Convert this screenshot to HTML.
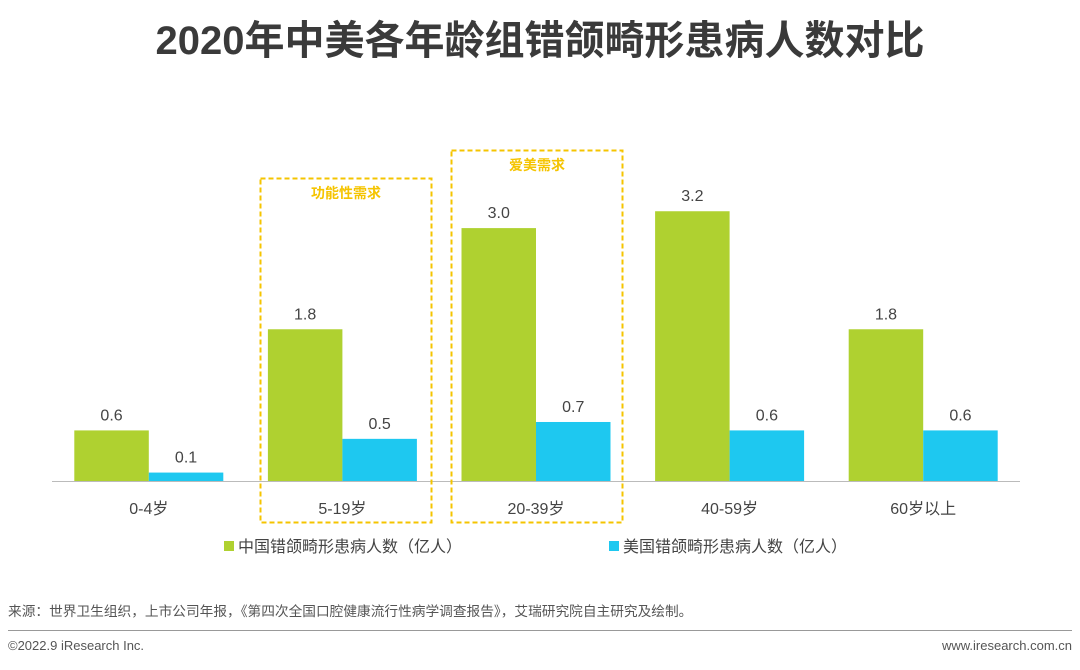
<!DOCTYPE html>
<html><head><meta charset="utf-8">
<style>
body{margin:0;width:1080px;height:665px;background:#fff;overflow:hidden;font-family:"Liberation Sans","Noto Sans CJK SC",sans-serif;}
</style></head><body>
<svg width="1080" height="665" xmlns="http://www.w3.org/2000/svg" font-family="Liberation Sans, Noto Sans CJK SC, sans-serif">
<text x="540" y="54" text-anchor="middle" font-size="40" font-weight="bold" fill="#3a3a3a">2020年中美各年龄组错颌畸形患病人数对比</text>
<g id="bars"></g>
<line x1="52" y1="481.5" x2="1020" y2="481.5" stroke="#bbb" stroke-width="1"/>
<rect x="260.5" y="178.5" width="171" height="344" fill="none" stroke="#f5c400" stroke-width="2" stroke-dasharray="5,3"/>
<text x="346" y="198" text-anchor="middle" font-size="14" font-weight="bold" fill="#f5c400">功能性需求</text>
<rect x="451.5" y="150.5" width="171" height="372" fill="none" stroke="#f5c400" stroke-width="2" stroke-dasharray="5,3"/>
<text x="537" y="170" text-anchor="middle" font-size="14" font-weight="bold" fill="#f5c400">爱美需求</text>
<rect x="224" y="541" width="10" height="10" fill="#afd130"/>
<text x="238" y="552" font-size="16" fill="#444">中国错颌畸形患病人数（亿人）</text>
<rect x="609" y="541" width="10" height="10" fill="#1ec8f0"/>
<text x="623" y="552" font-size="16" fill="#444">美国错颌畸形患病人数（亿人）</text>
<text x="8" y="616" font-size="13.7" fill="#555">来源：世界卫生组织，上市公司年报，《第四次全国口腔健康流行性病学调查报告》，艾瑞研究院自主研究及绘制。</text>
<line x1="8" y1="630.5" x2="1072" y2="630.5" stroke="#999" stroke-width="1"/>
<text x="8" y="650" font-size="13" fill="#555">©2022.9 iResearch Inc.</text>
<text x="1072" y="650" text-anchor="end" font-size="13" fill="#555">www.iresearch.com.cn</text>
</svg>
<script>
const categories=["0-4岁","5-19岁","20-39岁","40-59岁","60岁以上"];
const chinaValues=[0.6,1.8,3.0,3.2,1.8];
const usValues=[0.1,0.5,0.7,0.6,0.6];
const NS="http://www.w3.org/2000/svg";
const g=document.getElementById("bars");
const x0=52,groupW=193.6,barW=74.5,baseY=481,unit=84.3;
function xCenter(i){return x0+groupW*(i+0.5);}
function yScale(v){return baseY-v*unit;}
function mk(tag,attrs){const e=document.createElementNS(NS,tag);for(const k in attrs)e.setAttribute(k,attrs[k]);g.appendChild(e);return e;}
categories.forEach((c,i)=>{
  const cx=xCenter(i);
  [[chinaValues[i],cx-barW,"#afd130","china"],[usValues[i],cx,"#1ec8f0","us"]].forEach(([v,x,col,s])=>{
    const r=mk("rect",{x:x,y:yScale(v),width:barW,height:baseY-yScale(v),fill:col});
    
    
    const t=mk("text",{x:x+barW/2,y:yScale(v)-10,"text-anchor":"middle","font-size":"16",fill:"#444"});
    t.textContent=v.toFixed(1);
    
    
  });
  const l=mk("text",{x:cx,y:514,"text-anchor":"middle","font-size":"16",fill:"#444"});
  l.textContent=c;
  
  
});
</script>
</body></html>
